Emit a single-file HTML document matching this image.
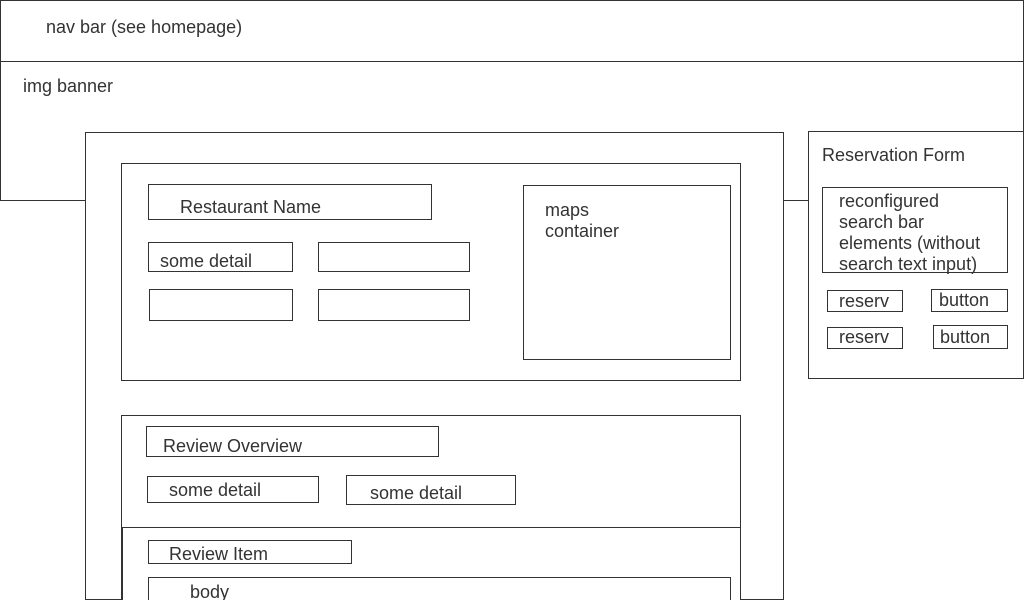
<!DOCTYPE html>
<html><head><meta charset="utf-8"><style>
html,body{margin:0;padding:0;width:1024px;height:600px;overflow:hidden;background:#fff;position:relative}
.b{position:absolute;box-sizing:border-box;border:1px solid #333;background:#fff}
.t{position:absolute;font-family:"Liberation Sans",sans-serif;font-size:18px;color:#333;line-height:21px;white-space:nowrap}
</style></head><body>
<div class="b" style="left:0;top:0;width:1024px;height:62px"></div>
<div class="t" style="left:46px;top:17px">nav bar (see homepage)</div>
<div class="b" style="left:0;top:61px;width:1024px;height:140px"></div>
<div class="t" style="left:23px;top:76px">img banner</div>
<div class="b" style="left:85px;top:132px;width:699px;height:468px"></div>
<div class="b" style="left:808px;top:131px;width:216px;height:248px"></div>
<div class="t" style="left:822px;top:145px">Reservation Form</div>
<div class="b" style="left:822px;top:187px;width:186px;height:86px"></div>
<div class="t" style="left:839px;top:191px;line-height:21px">reconfigured<br>search bar<br>elements (without<br>search text input)</div>
<div class="b" style="left:827px;top:290px;width:76px;height:22px"></div>
<div class="t" style="left:839px;top:291px">reserv</div>
<div class="b" style="left:931px;top:289px;width:77px;height:23px"></div>
<div class="t" style="left:939px;top:290px">button</div>
<div class="b" style="left:827px;top:327px;width:76px;height:22px"></div>
<div class="t" style="left:839px;top:327px">reserv</div>
<div class="b" style="left:933px;top:325px;width:75px;height:24px"></div>
<div class="t" style="left:940px;top:327px">button</div>

<div class="b" style="left:121px;top:163px;width:620px;height:218px"></div>
<div class="b" style="left:148px;top:184px;width:284px;height:36px"></div>
<div class="t" style="left:180px;top:197px">Restaurant Name</div>
<div class="b" style="left:148px;top:242px;width:145px;height:30px"></div>
<div class="t" style="left:160px;top:251px">some detail</div>
<div class="b" style="left:318px;top:242px;width:152px;height:30px"></div>
<div class="b" style="left:149px;top:289px;width:144px;height:32px"></div>
<div class="b" style="left:318px;top:289px;width:152px;height:32px"></div>
<div class="b" style="left:523px;top:185px;width:208px;height:175px"></div>
<div class="t" style="left:545px;top:200px">maps<br>container</div>

<div class="b" style="left:121px;top:415px;width:620px;height:200px"></div>
<div class="b" style="left:146px;top:426px;width:293px;height:31px"></div>
<div class="t" style="left:163px;top:436px">Review Overview</div>
<div class="b" style="left:147px;top:476px;width:172px;height:27px"></div>
<div class="t" style="left:169px;top:480px">some detail</div>
<div class="b" style="left:346px;top:475px;width:170px;height:30px"></div>
<div class="t" style="left:370px;top:483px">some detail</div>
<div class="b" style="left:122px;top:527px;width:619px;height:90px"></div>
<div class="b" style="left:148px;top:540px;width:204px;height:24px"></div>
<div class="t" style="left:169px;top:544px">Review Item</div>
<div class="b" style="left:148px;top:577px;width:583px;height:40px"></div>
<div class="t" style="left:190px;top:582px">body</div>
</body></html>
